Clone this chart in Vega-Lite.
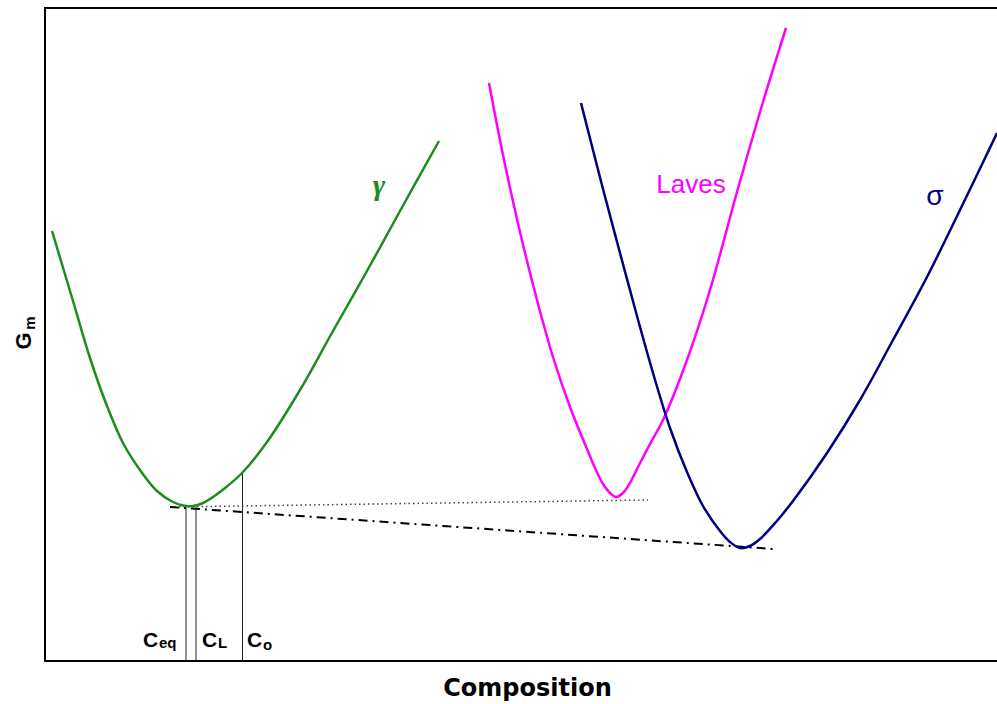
{
  "$schema": "https://vega.github.io/schema/vega-lite/v6.json",
  "width": 954,
  "height": 653,
  "autosize": "none",
  "padding": {"left": 45, "top": 8, "right": 0, "bottom": 43},
  "background": "white",
  "config": {
    "view": {"stroke": "black", "strokeWidth": 2},
    "axis": {"grid": false}
  },
  "datasets": {
    "curves": [
      {"phase": "gamma", "x": 7, "y": 430},
      {"phase": "gamma", "x": 28, "y": 360},
      {"phase": "gamma", "x": 45, "y": 303},
      {"phase": "gamma", "x": 62, "y": 255},
      {"phase": "gamma", "x": 78, "y": 218},
      {"phase": "gamma", "x": 95, "y": 191},
      {"phase": "gamma", "x": 112, "y": 170},
      {"phase": "gamma", "x": 128, "y": 159},
      {"phase": "gamma", "x": 138, "y": 155.5},
      {"phase": "gamma", "x": 148, "y": 155},
      {"phase": "gamma", "x": 158, "y": 158},
      {"phase": "gamma", "x": 168, "y": 164},
      {"phase": "gamma", "x": 180, "y": 173},
      {"phase": "gamma", "x": 197, "y": 188},
      {"phase": "gamma", "x": 222, "y": 219},
      {"phase": "gamma", "x": 255, "y": 271},
      {"phase": "gamma", "x": 288, "y": 330},
      {"phase": "gamma", "x": 322, "y": 390},
      {"phase": "gamma", "x": 355, "y": 450},
      {"phase": "gamma", "x": 394, "y": 520},
      {"phase": "Laves", "x": 444, "y": 578},
      {"phase": "Laves", "x": 458, "y": 506},
      {"phase": "Laves", "x": 475, "y": 429},
      {"phase": "Laves", "x": 492, "y": 361},
      {"phase": "Laves", "x": 508, "y": 304},
      {"phase": "Laves", "x": 525, "y": 254},
      {"phase": "Laves", "x": 542, "y": 212},
      {"phase": "Laves", "x": 550, "y": 193},
      {"phase": "Laves", "x": 558, "y": 177},
      {"phase": "Laves", "x": 565, "y": 168},
      {"phase": "Laves", "x": 571, "y": 164},
      {"phase": "Laves", "x": 578, "y": 168},
      {"phase": "Laves", "x": 585, "y": 178},
      {"phase": "Laves", "x": 593, "y": 194},
      {"phase": "Laves", "x": 605, "y": 217},
      {"phase": "Laves", "x": 618, "y": 241},
      {"phase": "Laves", "x": 642, "y": 301},
      {"phase": "Laves", "x": 665, "y": 371},
      {"phase": "Laves", "x": 692, "y": 469},
      {"phase": "Laves", "x": 718, "y": 559},
      {"phase": "Laves", "x": 741, "y": 633},
      {"phase": "sigma", "x": 536, "y": 558},
      {"phase": "sigma", "x": 558, "y": 472},
      {"phase": "sigma", "x": 575, "y": 408},
      {"phase": "sigma", "x": 592, "y": 345},
      {"phase": "sigma", "x": 608, "y": 288},
      {"phase": "sigma", "x": 625, "y": 233},
      {"phase": "sigma", "x": 642, "y": 189},
      {"phase": "sigma", "x": 658, "y": 155},
      {"phase": "sigma", "x": 675, "y": 130},
      {"phase": "sigma", "x": 685, "y": 119},
      {"phase": "sigma", "x": 695, "y": 113},
      {"phase": "sigma", "x": 705, "y": 115},
      {"phase": "sigma", "x": 715, "y": 122},
      {"phase": "sigma", "x": 731, "y": 139},
      {"phase": "sigma", "x": 748, "y": 160},
      {"phase": "sigma", "x": 782, "y": 208},
      {"phase": "sigma", "x": 815, "y": 261},
      {"phase": "sigma", "x": 848, "y": 321},
      {"phase": "sigma", "x": 882, "y": 384},
      {"phase": "sigma", "x": 915, "y": 451},
      {"phase": "sigma", "x": 952, "y": 528}
    ],
    "dotted": [
      {"x": 125, "y": 154},
      {"x": 603, "y": 161}
    ],
    "dashdot": [
      {"x": 125, "y": 154},
      {"x": 729, "y": 112}
    ],
    "verticals": [
      {"name": "Ceq", "x": 141, "y": 0, "y2": 155},
      {"name": "CL", "x": 151, "y": 0, "y2": 154},
      {"name": "Co", "x": 197.5, "y": 0, "y2": 188}
    ],
    "phaseLabels": [
      {"phase": "gamma", "label": "γ", "x": 334, "y": 466},
      {"phase": "Laves", "label": "Laves", "x": 646, "y": 468},
      {"phase": "sigma", "label": "σ", "x": 890, "y": 456}
    ],
    "cLabels": [
      {"label": "C", "x": 98, "y": 14},
      {"label": "C", "x": 157, "y": 14},
      {"label": "C", "x": 202, "y": 14}
    ],
    "subLabels": [
      {"label": "eq", "x": 114, "y": 13},
      {"label": "L", "x": 173, "y": 13},
      {"label": "o", "x": 218, "y": 11}
    ],
    "gLabel": [{"label": "G", "x": -21, "y": 320}],
    "mLabel": [{"label": "m", "x": -15, "y": 338}]
  },
  "layer": [
    {
      "data": {"name": "verticals"},
      "mark": {"type": "rule", "color": "#222222", "strokeWidth": 1},
      "encoding": {
        "x": {"field": "x", "type": "quantitative", "scale": {"domain": [0, 954], "nice": false, "zero": false},
              "axis": {"title": "Composition", "labels": false, "ticks": false, "domain": false, "titleFont": "DejaVu Sans", "titleFontSize": 24, "titleFontWeight": "bold", "titleColor": "black", "titlePadding": 15, "titleX": 482}},
        "y": {"field": "y", "type": "quantitative", "scale": {"domain": [0, 653], "nice": false, "zero": false}, "axis": null},
        "y2": {"field": "y2"}
      }
    },
    {
      "data": {"name": "dotted"},
      "mark": {"type": "line", "color": "#444444", "strokeWidth": 1.5, "strokeDash": [1.5, 3]},
      "encoding": {
        "x": {"field": "x", "type": "quantitative"},
        "y": {"field": "y", "type": "quantitative"}
      }
    },
    {
      "data": {"name": "dashdot"},
      "mark": {"type": "line", "color": "black", "strokeWidth": 2, "strokeDash": [9, 5, 2, 5]},
      "encoding": {
        "x": {"field": "x", "type": "quantitative"},
        "y": {"field": "y", "type": "quantitative"}
      }
    },
    {
      "data": {"name": "curves"},
      "mark": {"type": "line", "strokeWidth": 2.5, "interpolate": "catmull-rom"},
      "encoding": {
        "x": {"field": "x", "type": "quantitative"},
        "y": {"field": "y", "type": "quantitative"},
        "color": {"field": "phase", "type": "nominal", "scale": {"domain": ["gamma", "Laves", "sigma"], "range": ["#1E8C1E", "#FF00FF", "#000080"]}, "legend": null}
      }
    },
    {
      "data": {"name": "phaseLabels"},
      "transform": [{"filter": "datum.phase === 'gamma'"}],
      "mark": {"type": "text", "font": "Liberation Serif", "fontSize": 30, "fontStyle": "italic", "fontWeight": "bold", "align": "center", "baseline": "alphabetic", "color": "#1E8C1E"},
      "encoding": {
        "x": {"field": "x", "type": "quantitative"},
        "y": {"field": "y", "type": "quantitative"},
        "text": {"field": "label"}
      }
    },
    {
      "data": {"name": "phaseLabels"},
      "transform": [{"filter": "datum.phase === 'Laves'"}],
      "mark": {"type": "text", "font": "Liberation Sans", "fontSize": 26, "align": "center", "baseline": "alphabetic", "color": "#FF00FF"},
      "encoding": {
        "x": {"field": "x", "type": "quantitative"},
        "y": {"field": "y", "type": "quantitative"},
        "text": {"field": "label"}
      }
    },
    {
      "data": {"name": "phaseLabels"},
      "transform": [{"filter": "datum.phase === 'sigma'"}],
      "mark": {"type": "text", "font": "Liberation Sans", "fontSize": 28, "align": "center", "baseline": "alphabetic", "color": "#000080"},
      "encoding": {
        "x": {"field": "x", "type": "quantitative"},
        "y": {"field": "y", "type": "quantitative"},
        "text": {"field": "label"}
      }
    },
    {
      "data": {"name": "cLabels"},
      "mark": {"type": "text", "font": "Liberation Sans", "fontSize": 21, "fontWeight": "bold", "align": "left", "baseline": "alphabetic", "color": "black"},
      "encoding": {
        "x": {"field": "x", "type": "quantitative"},
        "y": {"field": "y", "type": "quantitative"},
        "text": {"field": "label"}
      }
    },
    {
      "data": {"name": "subLabels"},
      "mark": {"type": "text", "font": "Liberation Sans", "fontSize": 15, "fontWeight": "bold", "align": "left", "baseline": "alphabetic", "color": "black"},
      "encoding": {
        "x": {"field": "x", "type": "quantitative"},
        "y": {"field": "y", "type": "quantitative"},
        "text": {"field": "label"}
      }
    },
    {
      "data": {"name": "gLabel"},
      "mark": {"type": "text", "font": "Liberation Sans", "fontSize": 22, "fontWeight": "bold", "align": "center", "baseline": "middle", "angle": 270, "color": "black"},
      "encoding": {
        "x": {"field": "x", "type": "quantitative"},
        "y": {"field": "y", "type": "quantitative"},
        "text": {"field": "label"}
      }
    },
    {
      "data": {"name": "mLabel"},
      "mark": {"type": "text", "font": "Liberation Sans", "fontSize": 15, "fontWeight": "bold", "align": "center", "baseline": "middle", "angle": 270, "color": "black"},
      "encoding": {
        "x": {"field": "x", "type": "quantitative"},
        "y": {"field": "y", "type": "quantitative"},
        "text": {"field": "label"}
      }
    }
  ]
}
